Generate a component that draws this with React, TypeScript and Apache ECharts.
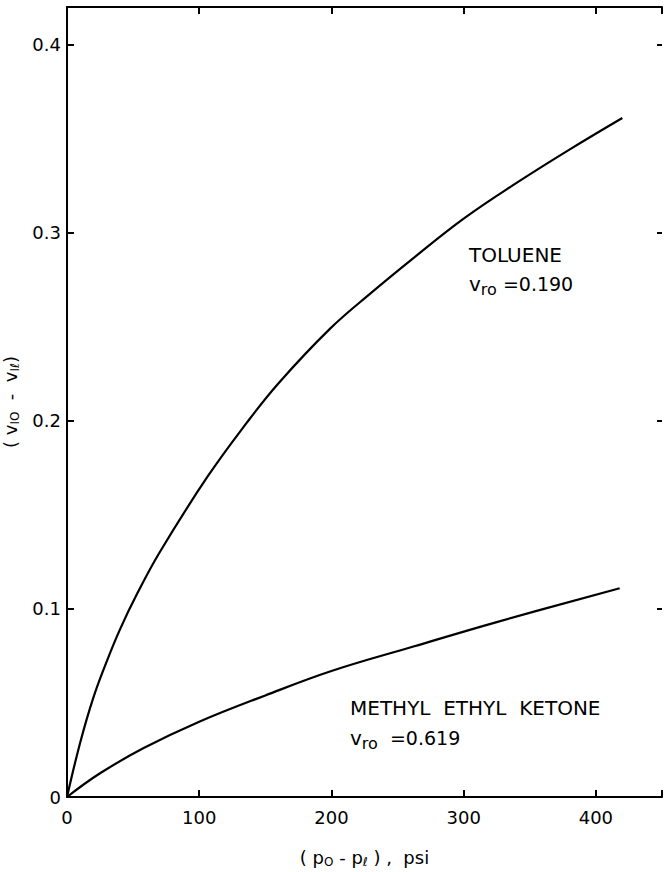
import React, { useEffect, useRef } from "react";
import * as echarts from "echarts";

const FONT = "DejaVu Sans";

// Toluene curve (x in psi, y = v10 - v1l)
const tolueneX = [0, 10, 20, 30, 40, 53, 70, 106, 136, 160, 199, 230, 262, 300, 340, 380, 420];
const tolueneY = [0, 0.029, 0.053, 0.072, 0.089, 0.108, 0.13, 0.17, 0.199, 0.22, 0.249, 0.268, 0.2865, 0.3075, 0.3265, 0.3442, 0.361];

// Methyl ethyl ketone curve
const mekX = [0, 25, 58, 100, 150, 200, 262, 325, 418];
const mekY = [0, 0.0126, 0.026, 0.04, 0.054, 0.067, 0.08, 0.093, 0.111];

const xTickLabels = ["0", "100", "200", "300", "400"];
const yTickLabels = ["0", "0.1", "0.2", "0.3", "0.4"];

const pairs = (xs: number[], ys: number[]) => xs.map((x, i) => [x, ys[i]]);

export default function App() {
  const ref = useRef<HTMLDivElement>(null);
  useEffect(() => {
    document.body.style.margin = "0";
    const chart = echarts.init(ref.current!, null, { renderer: "svg" });
    const black = "#000";
    const subRich = {
      n: { fontSize: 18, fontFamily: FONT, color: black, lineHeight: 22, verticalAlign: "middle" },
      s: { fontSize: 12, fontFamily: FONT, color: black, lineHeight: 12, verticalAlign: "bottom" },
    };
    const annRich = {
      n: { fontSize: 20, fontFamily: FONT, fill: black, lineHeight: 26, verticalAlign: "middle" },
      s: { fontSize: 16, fontFamily: FONT, fill: black, lineHeight: 16, verticalAlign: "bottom" },
      e: { fontSize: 19, fontFamily: FONT, fill: black, lineHeight: 26, verticalAlign: "middle" },
    };
    const line = { show: true, onZero: false, lineStyle: { color: black, width: 2 } };
    chart.setOption({
      animation: false,
      backgroundColor: "#fff",
      grid: { left: 67, right: 2, top: 7, bottom: 75, containLabel: false, outerBoundsMode: "none" },
      xAxis: [
        {
          type: "value",
          position: "bottom",
          min: 0,
          max: 450,
          interval: 100,
          axisLine: line,
          axisTick: { show: true, inside: true, length: 7, lineStyle: { color: black, width: 2 } },
          axisLabel: {
            color: black,
            fontSize: 18,
            fontFamily: FONT,
            margin: 11,
            formatter: (v: number) => {
              const i = Math.round(v / 100);
              return Math.abs(v - i * 100) < 1e-6 && xTickLabels[i] !== undefined ? xTickLabels[i] : "";
            },
          },
          splitLine: { show: false },
          name: "{n|( p}{s|O}{n| - p}{s|ℓ}{n| ) ,  psi}",
          nameLocation: "middle",
          nameGap: 49,
          nameTextStyle: { color: black, fontSize: 18, fontFamily: FONT, rich: subRich },
        },
        {
          type: "value",
          position: "top",
          min: 0,
          max: 450,
          interval: 100,
          axisLine: line,
          axisTick: { show: true, inside: true, length: 7, lineStyle: { color: black, width: 2 } },
          axisLabel: { show: false },
          splitLine: { show: false },
        },
      ],
      yAxis: [
        {
          type: "value",
          position: "left",
          min: 0,
          max: 0.42,
          interval: 0.1,
          axisLine: line,
          axisTick: { show: true, inside: true, length: 7, lineStyle: { color: black, width: 2 } },
          axisLabel: {
            color: black,
            fontSize: 18,
            fontFamily: FONT,
            margin: 6,
            formatter: (v: number) => {
              const i = Math.round(v * 10);
              return Math.abs(v * 10 - i) < 1e-6 && yTickLabels[i] !== undefined ? yTickLabels[i] : "";
            },
          },
          splitLine: { show: false },
          name: "{n|( v}{s|IO}{n|  -  v}{s|Iℓ}{n|)}",
          nameLocation: "middle",
          nameGap: 43,
          nameRotate: 90,
          nameTextStyle: { color: black, fontSize: 18, fontFamily: FONT, rich: subRich },
        },
        {
          type: "value",
          position: "right",
          min: 0,
          max: 0.42,
          interval: 0.1,
          axisLine: { show: false, onZero: false },
          axisTick: { show: true, inside: true, length: 5, lineStyle: { color: black, width: 2 } },
          axisLabel: { show: false },
          splitLine: { show: false },
        },
      ],
      series: [
        {
          name: "TOLUENE",
          type: "line",
          data: pairs(tolueneX, tolueneY),
          showSymbol: false,
          smooth: 0.4,
          lineStyle: { color: black, width: 2.2 },
        },
        {
          name: "METHYL ETHYL KETONE",
          type: "line",
          data: pairs(mekX, mekY),
          showSymbol: false,
          smooth: 0.4,
          lineStyle: { color: black, width: 2.2 },
        },
      ],
      graphic: [
        {
          type: "text",
          x: 469,
          y: 255,
          style: { text: "{n|TOLUENE}", rich: annRich, fill: black, verticalAlign: "middle" },
        },
        {
          type: "text",
          x: 469,
          y: 284,
          style: { text: "{n|v}{s|ro}{e| =0.190}", rich: annRich, fill: black, verticalAlign: "middle" },
        },
        {
          type: "text",
          x: 350,
          y: 708,
          style: { text: "{n|METHYL  ETHYL  KETONE}", rich: annRich, fill: black, verticalAlign: "middle" },
        },
        {
          type: "text",
          x: 350,
          y: 738,
          style: { text: "{n|v}{s|ro}{e|  =0.619}", rich: annRich, fill: black, verticalAlign: "middle" },
        },
      ],
    });
    return () => chart.dispose();
  }, []);
  return <div ref={ref} style={{ width: 664, height: 872 }} />;
}
